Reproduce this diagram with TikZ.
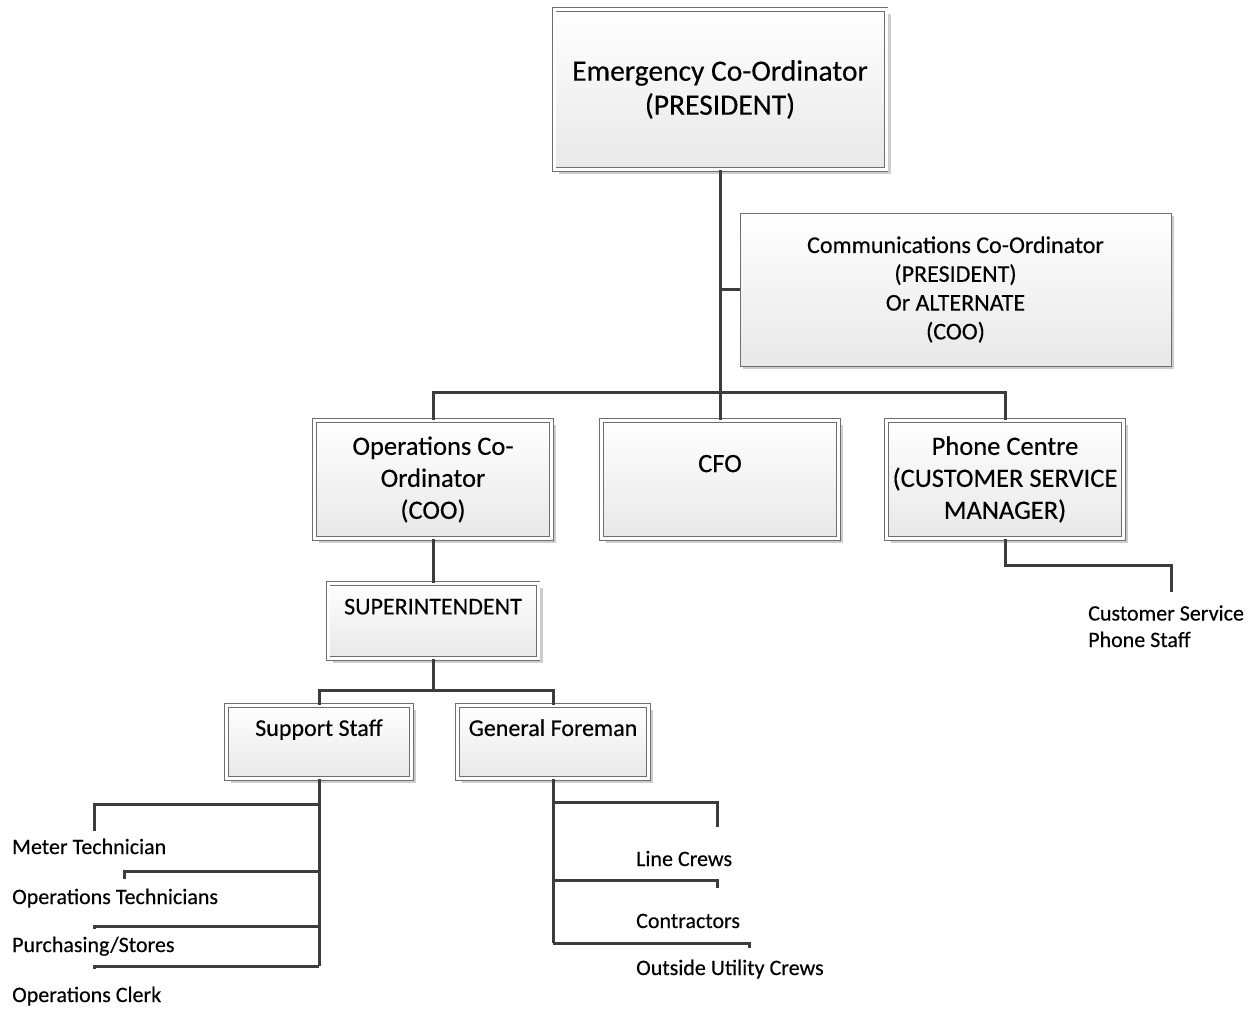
\documentclass[tikz,border=0pt]{standalone}
\usepackage{fontspec}
\setmainfont[FakeBold=0.3]{Carlito}
\usetikzlibrary{shadows}
\definecolor{linegray}{RGB}{60,60,60}
\definecolor{boxgray}{RGB}{110,110,110}
\definecolor{shadegray}{RGB}{232,232,232}
\definecolor{shadowgray}{RGB}{205,205,205}
\tikzset{
  orgbox/.style={draw=boxgray, line width=0.8pt, double=white, double distance=3pt,
    top color=white, bottom color=shadegray, inner sep=0pt, align=center,
    drop shadow={shadow xshift=4.5pt, shadow yshift=-4.5pt, fill=shadowgray, opacity=1}},
  commbox/.style={draw=boxgray, line width=0.8pt, top color=white, bottom color=shadegray,
    inner sep=0pt, align=center, font=\fontsize{24}{28.8}\selectfont,
    drop shadow={shadow xshift=3pt, shadow yshift=-3pt, fill=shadowgray, opacity=1}},
  bigtext/.style={font=\fontsize{29.5}{34}\selectfont},
  midbox/.style={minimum width=237pt, minimum height=118pt, font=\fontsize{26.5}{32}\selectfont},
  smalltext/.style={font=\fontsize{24}{28.8}\selectfont},
  lbl/.style={anchor=base west, inner sep=0pt, align=left, font=\fontsize{22}{26.5}\selectfont},
  conn/.style={draw=linegray, line width=3pt}
}
\begin{document}
\begin{tikzpicture}[x=1pt,y=-1pt]
\useasboundingbox (0,0) rectangle (1253,1009);
% boxes
\node[orgbox, bigtext, minimum width=332pt, minimum height=160pt] (emerg) at (720,89.5) {Emergency Co-Ordinator\\(PRESIDENT)};
\node[commbox, minimum width=431pt, minimum height=153pt] (comms) at (955.5,289.5) {Communications Co-Ordinator\\(PRESIDENT)\\Or ALTERNATE\\(COO)};
\node[orgbox, midbox] (opsco) at (433,479.5) {Operations Co-\\Ordinator\\(COO)};
\node[orgbox, midbox] (cfo) at (720,479.5) {CFO\\~};
\node[orgbox, midbox] (phone) at (1005,479.5) {Phone Centre\\(CUSTOMER SERVICE\\MANAGER)};
\node[orgbox, smalltext, minimum width=210pt, minimum height=75pt] (supt) at (433,621) {SUPERINTENDENT\\~};
\node[orgbox, smalltext, minimum width=185pt, minimum height=73pt] (support) at (319,742) {Support Staff\\~};
\node[orgbox, smalltext, minimum width=191pt, minimum height=73pt] (foreman) at (553,742) {General Foreman\\~};
% labels
\node[lbl] (meter) at (12,854) {Meter Technician};
\node[lbl] (optech) at (12,904) {Operations Technicians};
\node[lbl] (purch) at (12,952) {Purchasing/Stores};
\node[lbl] (clerk) at (12,1002) {Operations Clerk};
\node[lbl] (crews) at (636,866) {Line Crews};
\node[lbl] (contr) at (636,928) {Contractors};
\node[lbl] (outside) at (636,975) {Outside Utility Crews};
\node[lbl] (csstaff) at (1088,647) {Customer Service\\Phone Staff};
\coordinate (meter-top) at (94,831);
\coordinate (optech-top) at (124,879);
\coordinate (purch-top) at (94,929);
\coordinate (clerk-top) at (94,969);
\coordinate (crews-top) at (717,827);
\coordinate (contr-top) at (717,888);
\coordinate (outside-top) at (749,948);
\coordinate (csstaff-top) at (1171,592);
% connectors
\coordinate (bus) at (720,392);
\coordinate (sbus) at (433,690);
\draw[conn] (emerg.south) -- (bus);
\draw[conn] (comms.west) -- (comms.west -| bus);
\draw[conn] (bus) -| (opsco.north);
\draw[conn] (bus) -- (cfo.north);
\draw[conn] (bus) -| (phone.north);
\draw[conn] (opsco.south) -- (supt.north);
\draw[conn] (supt.south) -- (sbus);
\draw[conn] (sbus) -| (support.north);
\draw[conn] (sbus) -| (foreman.north);
\draw[conn] (support.south) -- ++(0,187.5);
\foreach \n/\dy in {meter/25.5, optech/92.5, purch/147.5, clerk/187.5}
  \draw[conn] (support.south) ++(0,\dy) -| (\n-top);
\draw[conn] (foreman.south) -- ++(0,164.5);
\foreach \n/\dy in {crews/23.5, contr/101.5, outside/164.5}
  \draw[conn] (foreman.south) ++(0,\dy) -| (\n-top);
\draw[conn] (phone.south) -- ++(0,27) -| (csstaff-top);
\end{tikzpicture}
\end{document}
